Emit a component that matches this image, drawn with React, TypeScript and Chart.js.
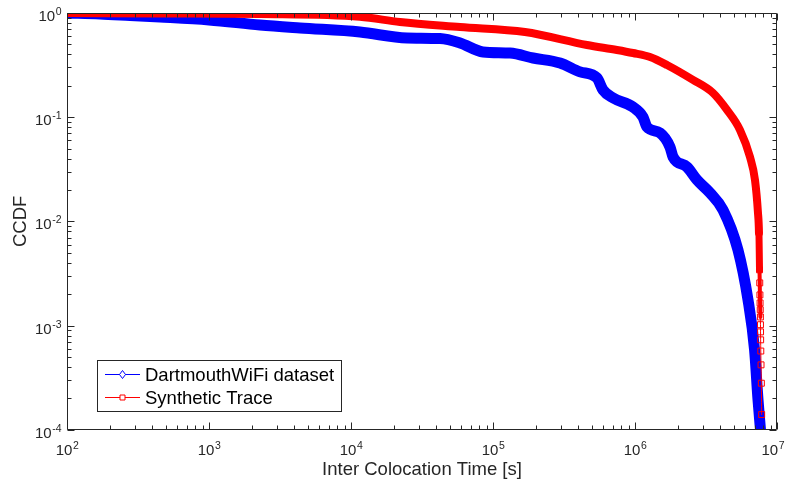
import React, { useEffect, useRef } from "react";
import { Chart, registerables } from "chart.js";

Chart.register(...registerables);

// ---------- data ----------
const seriesNames = ["DartmouthWiFi dataset", "Synthetic Trace"];

const dartmouthX = [
  100, 171, 278, 452, 1000, 2285, 4375, 11560, 24770, 42360, 58600, 85100,
  131900, 191500, 296700, 410400, 540000, 595500, 700000, 968000, 1138000,
  1215000, 1500000, 1763000, 1852000, 2324000, 2733000, 3376000, 4167000,
  5309000, 6248000, 6950000, 7350000, 7650000,
];
const dartmouthY = [
  1.0, 0.978, 0.946, 0.915, 0.857, 0.767, 0.718, 0.657, 0.576, 0.569, 0.516,
  0.423, 0.413, 0.37, 0.331, 0.272, 0.238, 0.1825, 0.153, 0.1254, 0.1006,
  0.0806, 0.0706, 0.0518, 0.0416, 0.0333, 0.025, 0.01877, 0.01289, 0.00533,
  0.001767, 0.000585, 0.000194, 0.0001,
];

// dense part of the synthetic trace (markers merge into a band)
const syntheticBandX = [
  100, 452, 2285, 11560, 22130, 58600, 167900, 459000, 746000, 968000,
  1276000, 1679000, 2559000, 3539000, 4443000, 5486000, 6451000, 6998000,
  7345000, 7465000,
];
const syntheticBandY = [
  1.0, 0.989, 0.978, 0.921, 0.82, 0.734, 0.657, 0.493, 0.442, 0.413, 0.378,
  0.317, 0.228, 0.171, 0.1174, 0.0754, 0.0416, 0.025, 0.0121, 0.00776,
];
// sparse tail of the synthetic trace (individual markers visible)
const syntheticTailX = [
  7530000, 7560000, 7580000, 7600000, 7620000, 7640000, 7650000, 7660000,
  7670000, 7690000, 7720000, 7760000, 7800000,
];
const syntheticTailY = [
  0.00343, 0.00257, 0.00197, 0.00165, 0.00142, 0.00121, 0.00102, 0.00087,
  0.00073, 0.00057, 0.00042, 0.00028, 0.00014,
];

const xTickValues = [1e2, 1e3, 1e4, 1e5, 1e6, 1e7];
const xTickExponents = ["2", "3", "4", "5", "6", "7"];
const yTickValues = [1e-4, 1e-3, 1e-2, 1e-1, 1];
const yTickExponents = ["-4", "-3", "-2", "-1", "0"];
const tickBase = "10";

const xTitle = "Inter Colocation Time [s]";
const yTitle = "CCDF";

// ---------- style ----------
const FONT = "'Liberation Sans', Arial, Helvetica, sans-serif";
const AXIS_COLOR = "#262626";
const BLUE = "#0000ff";
const RED = "#ff0000";

const syntheticAllX = syntheticBandX.concat(syntheticTailX);
const syntheticAllY = syntheticBandY.concat(syntheticTailY);
const redMarkerStart = syntheticBandX.length;

function redSegmentWidth(i: number) {
  if (i < redMarkerStart - 1) return 8;
  if (i === redMarkerStart - 1) return 7;
  if (i < redMarkerStart + 5) return 4;
  return 1;
}

const axesPlugin = {
  id: "matlabAxes",
  afterDatasetsDraw(chart: any) {
    const { ctx, chartArea: a, scales } = chart;
    const xs = scales.x;
    const ys = scales.y;
    const L = Math.round(a.left) + 0.5;
    const R = Math.round(a.right) - 0.5;
    const T = Math.round(a.top) + 0.5;
    const B = Math.round(a.bottom) - 0.5;
    ctx.save();
    ctx.strokeStyle = AXIS_COLOR;
    ctx.lineWidth = 1;
    ctx.beginPath();
    ctx.rect(L, T, R - L, B - T);
    ctx.stroke();

    ctx.beginPath();
    for (let d = 2; d <= 7; d++) {
      for (let m = 1; m <= 9; m++) {
        const v = m * Math.pow(10, d);
        if (v > 1e7 * 1.0001) break;
        const px = Math.round(xs.getPixelForValue(v)) + 0.5;
        const len = m === 1 ? 7 : 4;
        ctx.moveTo(px, B);
        ctx.lineTo(px, B - len);
        ctx.moveTo(px, T);
        ctx.lineTo(px, T + len);
      }
    }
    for (let d = -4; d <= 0; d++) {
      for (let m = 1; m <= 9; m++) {
        const v = m * Math.pow(10, d);
        if (v > 1.0001) break;
        const py = Math.round(ys.getPixelForValue(v)) + 0.5;
        const len = m === 1 ? 7 : 4;
        ctx.moveTo(L, py);
        ctx.lineTo(L + len, py);
        ctx.moveTo(R, py);
        ctx.lineTo(R - len, py);
      }
    }
    ctx.stroke();

    // tick labels
    ctx.fillStyle = AXIS_COLOR;
    ctx.textBaseline = "alphabetic";
    ctx.textAlign = "left";
    const baseFont = `15px ${FONT}`;
    const expFont = `10.5px ${FONT}`;
    xTickValues.forEach((v, i) => {
      const px = xs.getPixelForValue(v);
      ctx.font = baseFont;
      const w1 = ctx.measureText(tickBase).width;
      ctx.font = expFont;
      const w2 = ctx.measureText(xTickExponents[i]).width;
      let start = px - (w1 + w2) / 2;
      if (start + w1 + w2 > chart.width - 3) start = chart.width - 3 - w1 - w2;
      const base = a.bottom + 25;
      ctx.font = baseFont;
      ctx.fillText(tickBase, start, base);
      ctx.font = expFont;
      ctx.fillText(xTickExponents[i], start + w1 + 0.5, base - 6);
    });
    yTickValues.forEach((v, i) => {
      const py = ys.getPixelForValue(v);
      ctx.font = baseFont;
      const w1 = ctx.measureText(tickBase).width;
      ctx.font = expFont;
      const w2 = ctx.measureText(yTickExponents[i]).width;
      const start = a.left - 6 - (w1 + w2);
      const base = py + 8;
      ctx.font = baseFont;
      ctx.fillText(tickBase, start, base);
      ctx.font = expFont;
      ctx.fillText(yTickExponents[i], start + w1 + 0.5, base - 6);
    });

    // legend
    const lx = 97.5, ly = 360.5, lw = 244, lh = 51;
    ctx.fillStyle = "#ffffff";
    ctx.fillRect(lx, ly, lw, lh);
    ctx.strokeStyle = AXIS_COLOR;
    ctx.lineWidth = 1;
    ctx.strokeRect(lx, ly, lw, lh);
    const rows = [374.5, 397.5];
    const colors = [BLUE, RED];
    rows.forEach((ry, i) => {
      ctx.strokeStyle = colors[i];
      ctx.lineWidth = 1;
      ctx.beginPath();
      ctx.moveTo(105, ry);
      ctx.lineTo(140, ry);
      ctx.stroke();
      const mx = 122.5;
      ctx.beginPath();
      if (i === 0) {
        ctx.moveTo(mx, ry - 4);
        ctx.lineTo(mx + 3, ry);
        ctx.lineTo(mx, ry + 4);
        ctx.lineTo(mx - 3, ry);
        ctx.closePath();
      } else {
        ctx.rect(mx - 2.5, ry - 2.5, 5, 5);
      }
      ctx.fillStyle = "#ffffff";
      ctx.fill();
      ctx.stroke();
      ctx.fillStyle = "#000000";
      ctx.font = `18.5px ${FONT}`;
      ctx.textBaseline = "middle";
      ctx.fillText(seriesNames[i], 145, ry + 1);
    });
    ctx.restore();
  },
};

export default function App() {
  const canvasRef = useRef<HTMLCanvasElement | null>(null);

  useEffect(() => {
    const canvas = canvasRef.current;
    if (!canvas) return;
    Chart.defaults.font.family = FONT;
    const chart = new Chart(canvas, {
      type: "line",
      data: {
        datasets: [
          {
            label: seriesNames[0],
            data: dartmouthX.map((x, i) => ({ x, y: dartmouthY[i] })),
            borderColor: BLUE,
            backgroundColor: BLUE,
            borderWidth: 11,
            borderJoinStyle: "round",
            borderCapStyle: "round",
            pointRadius: 0,
            cubicInterpolationMode: "monotone",
            order: 2,
          },
          {
            label: seriesNames[1],
            data: syntheticAllX.map((x, i) => ({ x, y: syntheticAllY[i] })),
            borderColor: RED,
            backgroundColor: "rgba(0,0,0,0)",
            borderWidth: 8,
            borderJoinStyle: "round",
            borderCapStyle: "round",
            cubicInterpolationMode: "monotone",
            pointStyle: "rect",
            pointRadius: syntheticAllX.map((_, i) => (i >= redMarkerStart ? 4.2 : 0)),
            pointBorderColor: RED,
            pointBackgroundColor: "rgba(0,0,0,0)",
            pointBorderWidth: 1,
            segment: {
              borderWidth: (c: any) => redSegmentWidth(c.p0DataIndex),
            },
            order: 1,
          },
        ],
      },
      options: {
        responsive: false,
        animation: false,
        devicePixelRatio: 1,
        layout: { padding: { top: 13, right: 10, bottom: 0, left: 0 } },
        plugins: {
          legend: { display: false },
          tooltip: { enabled: false },
        },
        scales: {
          x: {
            type: "logarithmic",
            min: 100,
            max: 1e7,
            ticks: { display: false },
            grid: { display: false, drawTicks: false },
            border: { display: false },
            title: {
              display: true,
              text: xTitle,
              color: AXIS_COLOR,
              font: { size: 18.5, family: FONT },
              padding: { top: 29, bottom: 3 },
            },
          },
          y: {
            type: "logarithmic",
            min: 1e-4,
            max: 1,
            ticks: { display: false },
            grid: { display: false, drawTicks: false },
            border: { display: false },
            title: {
              display: true,
              text: yTitle,
              color: AXIS_COLOR,
              font: { size: 18.5, family: FONT },
              padding: { top: 10, bottom: 34.8 },
            },
          },
        },
      },
      plugins: [axesPlugin],
    });
    return () => chart.destroy();
  }, []);

  return (
    <div style={{ position: "absolute", left: 0, top: 0, width: 787, height: 484, background: "#ffffff" }}>
      <canvas ref={canvasRef} width={787} height={484} style={{ display: "block" }} />
    </div>
  );
}
